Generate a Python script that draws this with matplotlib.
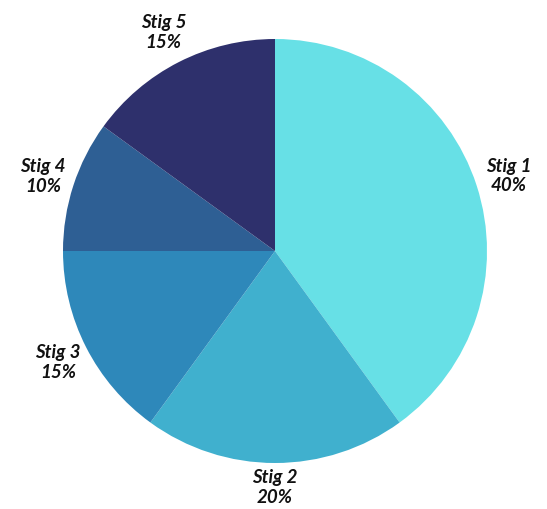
import numpy as np
import matplotlib.pyplot as plt

labels = ['Stig 1', 'Stig 2', 'Stig 3', 'Stig 4', 'Stig 5']
values = [40, 20, 15, 10, 15]
colors = ['#67E0E6', '#40B0CE', '#2E88BA', '#2E5F94', '#2E306C']
# distance of each label from the centre, in pie radii
label_dist = [1.16, 1.11, 1.15, 1.15, 1.16]

fig = plt.figure(figsize=(5.47, 5.10), dpi=100)
ax = fig.add_axes([63 / 547, 46 / 510, 424 / 547, 424 / 510])

wedges, texts = ax.pie(
    values, colors=colors, startangle=90, counterclock=False,
    labels=[f'{l}\n{v}%' for l, v in zip(labels, values)],
    textprops=dict(fontsize=13.5, fontweight='bold', fontstyle='italic',
                   family=['Lato', 'DejaVu Sans'], color='#111111',
                   va='center', linespacing=1.2),
)
for w, t, d in zip(wedges, texts, label_dist):
    ang = np.deg2rad((w.theta1 + w.theta2) / 2)
    t.set_position((d * np.cos(ang), d * np.sin(ang)))
    t.set_horizontalalignment('center')
ax.set_xlim(-1, 1)
ax.set_ylim(-1, 1)

plt.savefig('out.png', dpi=100)
